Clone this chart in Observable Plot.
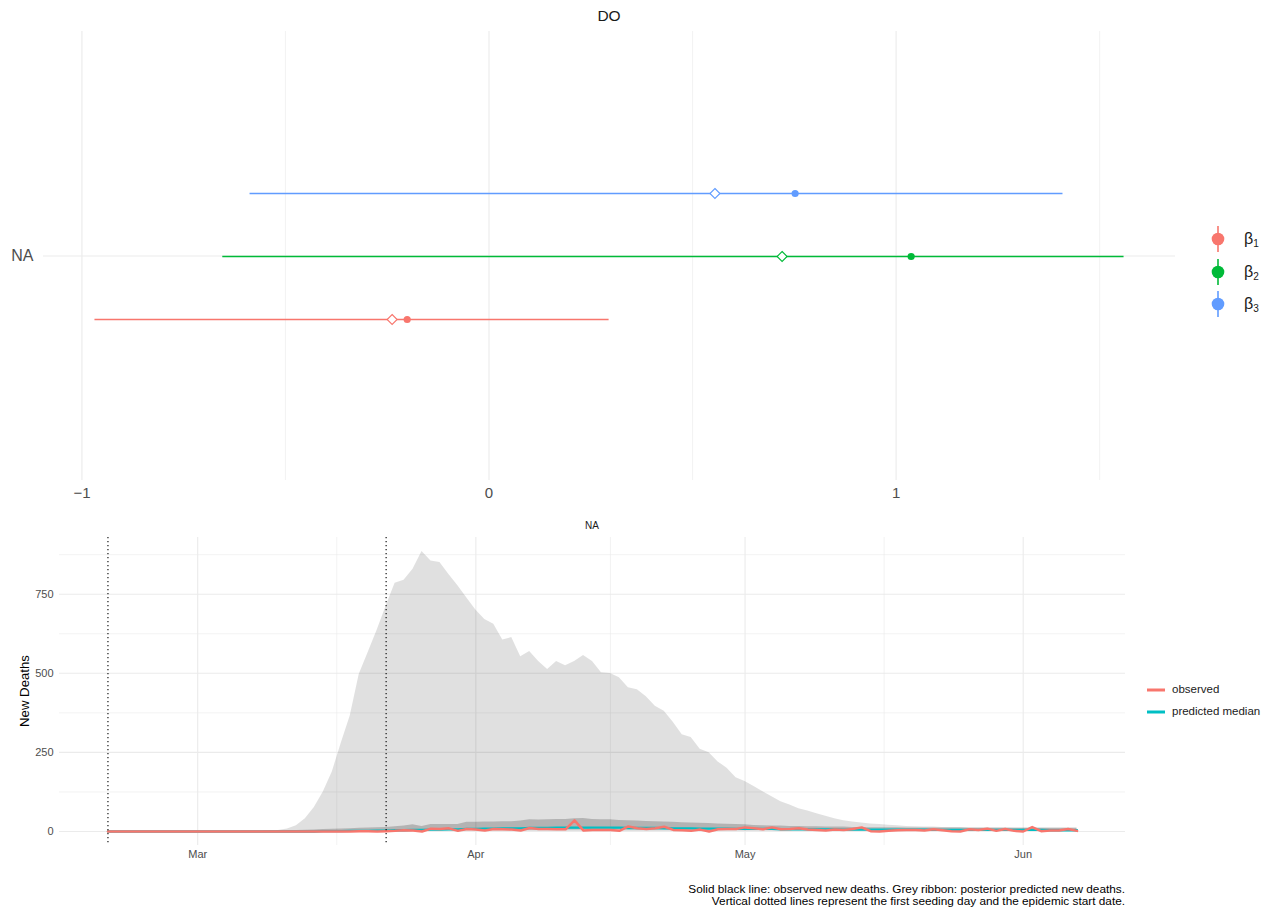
<!DOCTYPE html>
<html><head><meta charset="utf-8">
<script src="https://cdn.jsdelivr.net/npm/d3@7"></script>
<script src="https://cdn.jsdelivr.net/npm/@observablehq/plot@0.6"></script>
<style>
body{margin:0;background:#fff;font-family:"Liberation Sans",Arial,sans-serif;}
#wrap{position:relative;width:1271px;height:911px;overflow:hidden;background:#fff;}
.abs{position:absolute;white-space:nowrap;}
</style></head><body><div id="wrap"></div>
<script>
// ---------- top panel data ----------
const topTitle = "DO";
const region = "NA";
const params = ["β1","β2","β3"];
const paramSubs = ["1","2","3"];
const paramColors = ["#F8766D","#00BA38","#619CFF"];
const ciLow = [-0.968,-0.654,-0.587];
const ciHigh = [0.295,1.560,1.410];
const estMean = [-0.238,0.720,0.555];
const estMedian = [-0.201,1.037,0.752];
const topMajor = [-1,0,1];
const topMinor = [-0.5,0.5,1.5];

// ---------- bottom panel data ----------
const bottomTitle = "NA";
const firstDay = "2020-02-20", lastDay = "2020-06-07";
const markerDates = ["2020-02-20","2020-03-22"];
const monthTicks = ["2020-03-01","2020-04-01","2020-05-01","2020-06-01"];
const monthMinor = ["2020-03-16T12:00Z","2020-04-16T00:00Z","2020-05-16T12:00Z"];
const yMajor = [0,250,500,750];
const yMinor = [125,375,625,875];
const seriesNames = ["observed","predicted median"];
const seriesColors = ["#F8766D","#00BFC4"];
const captionLines = ["Solid black line: observed new deaths. Grey ribbon: posterior predicted new deaths.",
  "Vertical dotted lines represent the first seeding day and the epidemic start date."];

const outerHi = [0,0,0,0,0,0,0,0,0,0,0,0,0,0,0,0,0,1,1,3,8,18,40,76,125,188,279,365,496,566,
  636,712,785,794,829,885,855,850,812,777,738,700,670,655,605,613,552,569,537,512,
  537,524,537,556,537,502,499,486,454,448,426,396,380,345,306,297,260,249,220,200,
  170,158,142,126,110,94,84,72,65,56,48,40,34,30,27,24,22,20,18,16,
  15,14,14,13,13,13,12,12,12,12,12,11,11,11,11,11,11,11,11];
const innerHi = [0,0,0,0,0,0,0,0,0,0,0,0,0,0,0,1,1,1,2,2,3,3,4,5,6,7,8,9,10,11,
  12,13,15,17,21,16,22,22,22,22,29,29,30,30,31,31,33,37,36,37,
  38,38,40,41,38,37,37,35,34,33,32,31,30,29,28,27,26,25,24,23,
  22,21,19,18,17,17,16,16,15,15,14,14,14,13,13,12,12,12,12,11,
  11,11,11,11,11,11,10,10,10,10,10,10,10,10,10,10,10,10,10];
const innerLo = [0,0,0,0,0,0,0,0,0,0,0,0,0,0,0,0,0,0,0,0,0,0,0,0,0,0,0,0,1,1,
  1,2,2,2,2,3,3,3,3,4,4,4,4,4,5,5,5,5,5,5,
  5,5,5,5,5,5,5,5,5,5,5,5,5,4,4,4,4,4,4,4,
  4,3,3,3,3,3,3,3,3,3,3,3,3,2,2,2,2,2,2,2,
  2,2,2,2,2,2,2,2,2,2,2,2,2,2,2,2,2,2,2];
const predMedian = [0,0,0,0,0,0,0,0,0,0,0,0,0,0,0,0,0,0,0,0,0,0,0,0,1,1,1,2,2,2,
  3,3,4,4,5,5,6,6,7,7,8,8,9,9,10,10,10,11,11,11,
  12,12,12,12,12,12,12,12,11,11,11,11,10,10,10,10,9,9,9,9,
  8,8,8,8,8,7,7,7,7,7,7,7,6,6,6,6,6,6,6,6,
  6,6,5,5,5,5,5,5,5,5,5,5,5,5,5,4,4,4,4];
const observed = [0,0,0,0,0,0,0,0,0,0,0,0,0,0,0,0,0,0,0,0,0,0,0,0,0,0,0,0,1,1,
  0,1,2,4,3,0,9,8,10,2,8,6,3,8,7,6,3,11,8,8,
  7,7,35,3,5,5,5,2,16,10,8,10,15,5,4,2,6,0,7,8,
  8,13,10,7,13,7,8,10,6,5,3,6,5,8,13,1,0,2,4,5,
  5,3,7,4,1,0,7,5,9,2,8,2,0,14,1,3,3,8,2];

const FONT = '"Liberation Sans", Arial, sans-serif';
const wrap = document.getElementById("wrap");
function addDiv(html, css){ const d=document.createElement("div"); d.className="abs"; d.innerHTML=html; Object.assign(d.style, css); wrap.appendChild(d); return d; }

// ---------- top plot ----------
const effects = params.map((p,i)=>({param:p, region, lo:ciLow[i], hi:ciHigh[i], mean:estMean[i], med:estMedian[i]}));
const xlo = d3.min(ciLow), xhi = d3.max(ciHigh), xpad = (xhi-xlo)*0.05;
const topPlot = Plot.plot({
  width:1190, height:510, marginLeft:43, marginRight:15, marginTop:31, marginBottom:30,
  style:{fontFamily:FONT, background:"transparent", overflow:"visible"},
  x:{domain:[xlo-xpad, xhi+xpad]},
  y:{type:"point", domain:["β3","β2","β1"], padding:2.56, axis:null},
  fy:{domain:[region], padding:0},
  color:{domain:params, range:paramColors},
  marks:[
    Plot.gridX(topMinor,{stroke:"#ebebeb",strokeOpacity:1,strokeWidth:0.6}),
    Plot.gridX(topMajor,{stroke:"#ebebeb",strokeOpacity:1,strokeWidth:1.1}),
    Plot.gridFy({stroke:"#ebebeb",strokeOpacity:1,strokeWidth:1.1}),
    Plot.axisFy({anchor:"left", tickSize:0, tickPadding:10, fontSize:16, color:"#4d4d4d", label:null}),
    Plot.axisX(topMajor,{tickSize:0, tickPadding:7, fontSize:15, color:"#4d4d4d", tickFormat:d3.format("d"), label:null}),
    Plot.ruleY(effects,{fy:"region", y:"param", x1:"lo", x2:"hi", stroke:"param", strokeWidth:1.6}),
    Plot.dot(effects,{fy:"region", y:"param", x:"mean", stroke:"param", symbol:"diamond2", r:4.5, strokeWidth:1.1, fill:"white"}),
    Plot.dot(effects,{fy:"region", y:"param", x:"med", fill:"param", r:3.6})
  ]
});
topPlot.style.position="absolute"; topPlot.style.left="0px"; topPlot.style.top="0px";
wrap.appendChild(topPlot);
addDiv(topTitle,{left:"43px", width:"1132px", textAlign:"center", top:"7px", fontSize:"15.5px", color:"#1a1a1a"});

// top legend
params.forEach((p,i)=>{
  const cy = 239 + i*32.5;
  addDiv(`<svg width="20" height="28"><line x1="10" x2="10" y1="1" y2="27" stroke="${paramColors[i]}" stroke-width="1.6"/><circle cx="10" cy="14" r="6.3" fill="${paramColors[i]}"/></svg>`,
    {left:"1208px", top:(cy-14)+"px", lineHeight:"0"});
  addDiv(`β<span style="font-size:10px;position:relative;top:3px">${paramSubs[i]}</span>`,
    {left:"1244px", top:(cy-10)+"px", fontSize:"16px", color:"#1a1a1a", lineHeight:"20px"});
});

// ---------- bottom plot ----------
const days = d3.utcDay.range(new Date(firstDay), d3.utcDay.offset(new Date(lastDay),1));
const rows = days.map((d,i)=>({date:d, outerHi:outerHi[i], innerLo:innerLo[i], innerHi:innerHi[i], med:predMedian[i], obs:observed[i]}));
const t0 = days[0], t1 = days[days.length-1], tpad = (t1-t0)*0.05;
const ymax = d3.max(outerHi), ypad = ymax*0.05;
const botPlot = Plot.plot({
  width:1140, height:360, marginLeft:59, marginRight:15, marginTop:27, marginBottom:25,
  style:{fontFamily:FONT, background:"transparent", overflow:"visible"},
  x:{type:"utc", domain:[new Date(+t0 - tpad), new Date(+t1 + tpad)]},
  y:{domain:[-ypad, ymax+ypad]},
  marks:[
    Plot.gridY(yMinor,{stroke:"#ebebeb",strokeOpacity:1,strokeWidth:0.6}),
    Plot.gridY(yMajor,{stroke:"#ebebeb",strokeOpacity:1,strokeWidth:1.1}),
    Plot.gridX(monthMinor.map(d=>new Date(d)),{stroke:"#ebebeb",strokeOpacity:1,strokeWidth:0.6}),
    Plot.gridX(monthTicks.map(d=>new Date(d)),{stroke:"#ebebeb",strokeOpacity:1,strokeWidth:1.1}),
    Plot.areaY(rows,{x:"date", y:"outerHi", fill:"#000", fillOpacity:0.12}),
    Plot.areaY(rows,{x:"date", y1:"innerLo", y2:"innerHi", fill:"#000", fillOpacity:0.2}),
    Plot.lineY(rows,{x:"date", y:"med", stroke:seriesColors[1], strokeWidth:2.3}),
    Plot.lineY(rows,{x:"date", y:"obs", stroke:seriesColors[0], strokeWidth:2.5}),
    Plot.ruleX(markerDates.map(d=>new Date(d)),{stroke:"#000", strokeWidth:1.1, strokeDasharray:"1.2,2.8"}),
    Plot.axisX(monthTicks.map(d=>new Date(d)),{tickSize:0, tickPadding:5, fontSize:11, color:"#4d4d4d", tickFormat:d3.utcFormat("%b"), label:null}),
    Plot.axisY(yMajor,{tickSize:0, tickPadding:6, fontSize:11, color:"#4d4d4d", label:null})
  ]
});
botPlot.style.position="absolute"; botPlot.style.left="0px"; botPlot.style.top="510px";
wrap.appendChild(botPlot);
addDiv(bottomTitle,{left:"59px", width:"1066px", textAlign:"center", top:"520px", fontSize:"10px", color:"#1a1a1a"});
addDiv("New Deaths",{left:"24px", top:"691px", fontSize:"13.2px", color:"#000", transform:"translate(-50%,-50%) rotate(-90deg)"});

// bottom legend
seriesNames.forEach((s,i)=>{
  const cy = 690 + i*22;
  addDiv(`<svg width="18" height="6"><line x1="0" x2="18" y1="3" y2="3" stroke="${seriesColors[i]}" stroke-width="3"/></svg>`,
    {left:"1147px", top:(cy-3)+"px", lineHeight:"0"});
  addDiv(s,{left:"1172px", top:(cy-8)+"px", fontSize:"11.5px", color:"#1a1a1a", lineHeight:"15px"});
});

// caption
addDiv(captionLines.join("<br>"),{right:(1271-1125)+"px", top:"883px", fontSize:"11.8px", lineHeight:"12px", textAlign:"right", color:"#000"});
</script></body></html>
